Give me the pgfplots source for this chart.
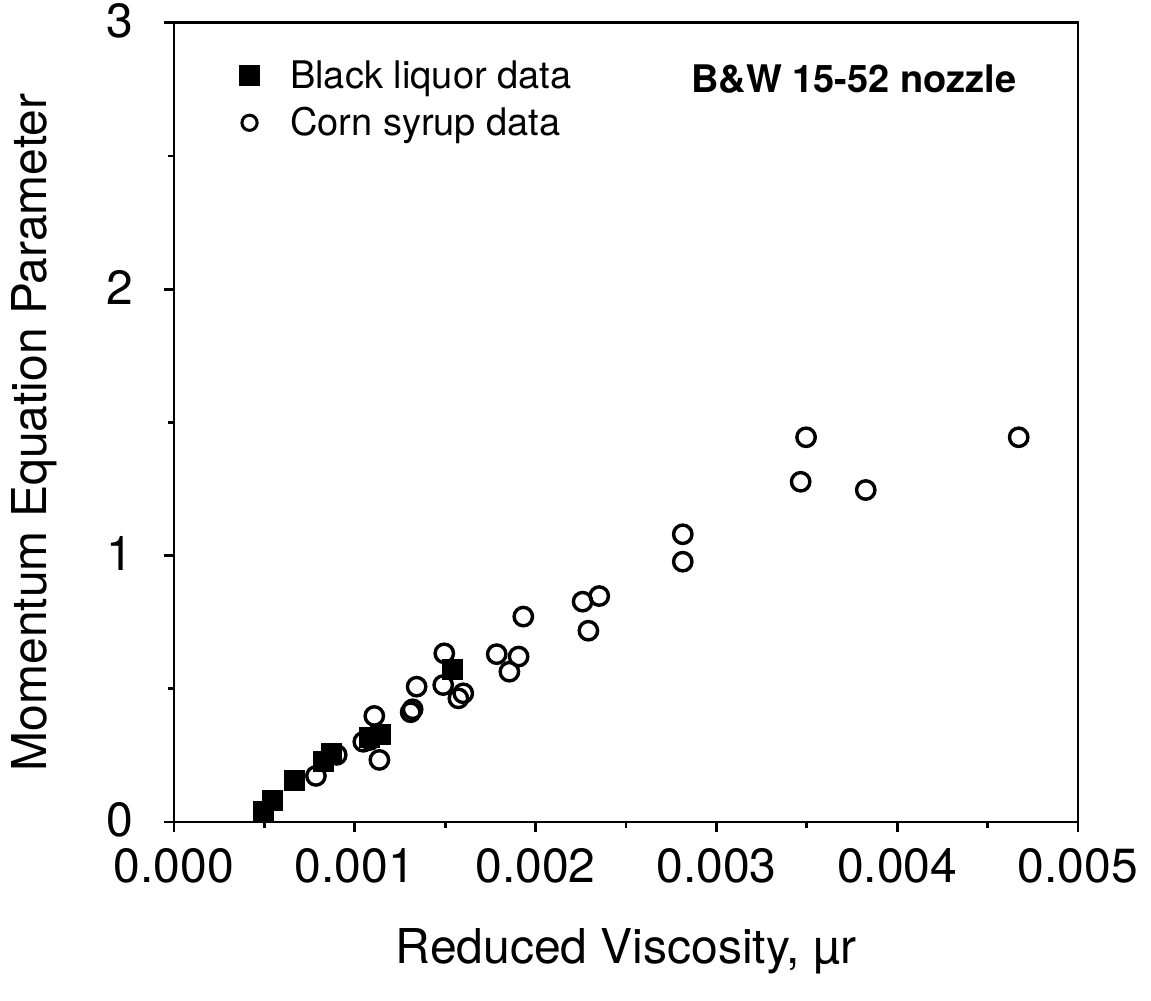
\documentclass[border=0pt]{standalone}
\usepackage{pgfplots}
\pgfplotsset{compat=1.18}
\usepackage{fontspec}
\setmainfont{TeX Gyre Heros}
\pgfplotstableread{
x y
0.000494 0.039
0.000546 0.080
0.000666 0.155
0.000826 0.226
0.000872 0.258
0.001080 0.318
0.001140 0.327
0.001539 0.571
}\blackliquor
\pgfplotstableread{
x y
0.000785 0.173
0.000900 0.252
0.001136 0.233
0.001047 0.301
0.001084 0.308
0.001108 0.398
0.001309 0.412
0.001320 0.423
0.001342 0.508
0.001489 0.514
0.001495 0.633
0.001573 0.464
0.001600 0.483
0.001785 0.630
0.001855 0.564
0.001906 0.621
0.001932 0.771
0.002260 0.827
0.002292 0.718
0.002352 0.848
0.002814 0.977
0.002814 1.080
0.003466 1.277
0.003496 1.444
0.003826 1.246
0.004672 1.444
}\cornsyrup
\begin{document}
\begin{tikzpicture}
\useasboundingbox (-87pt,-89.5pt) rectangle (488.5pt,411pt);
\begin{axis}[
  scale only axis, width=452pt, height=399.65pt,
  xmin=0, xmax=0.005, ymin=0, ymax=3,
  xtick={0,0.001,0.002,0.003,0.004,0.005},
  ytick={0,1,2,3},
  minor x tick num=1, minor y tick num=1,
  tick pos=left,
  tick align=outside, major tick length=5pt, minor tick length=3pt,
  axis line style={line width=1.4pt},
  every tick/.style={black, line width=1.4pt},
  scaled x ticks=false,
  /pgf/number format/assume math mode=true,
  tick label style={font=\fontsize{24}{28}\selectfont, inner sep=0pt},
  xticklabel style={/pgf/number format/fixed, /pgf/number format/fixed zerofill, /pgf/number format/precision=3, yshift=-8pt},
  yticklabel style={xshift=-15pt, yshift=1pt},
  xlabel={Reduced Viscosity, µr},
  ylabel={Momentum Equation Parameter},
  label style={font=\fontsize{24}{28}\selectfont},
  xlabel style={at={(axis description cs:0.5,-0.177)}, anchor=base},
  ylabel style={at={(axis description cs:-0.1405,0.4875)}, anchor=base, rotate=0},
  legend style={draw=none, fill=none, at={(axis description cs:0.0725,0.904)}, anchor=west,
    inner sep=0pt, row sep=8pt, font=\fontsize{19}{22}\selectfont,
    nodes={inner sep=0pt},
    /tikz/every odd column/.append style={column sep=15.5pt}},
  legend cell align=left,
  legend image code/.code={\draw[#1] plot coordinates {(0pt,0pt)};},
]
\addplot[only marks, mark=square*, mark size=4.8pt, black, fill=black, line width=1pt] table[x=x,y=y]{\blackliquor};
\addlegendentry{Black liquor data}
\addplot[only marks, mark=o, mark size=4.6pt, black, line width=1.7pt,
  legend image post style={mark size=3.8pt, line width=1.5pt}] table[x=x,y=y]{\cornsyrup};
\addlegendentry{Corn syrup data}
\node[anchor=east, inner sep=0pt, font=\fontsize{19}{22}\selectfont\bfseries] at (axis description cs:0.9325,0.93) {B\&W 15-52 nozzle};
\end{axis}
\end{tikzpicture}
\end{document}
